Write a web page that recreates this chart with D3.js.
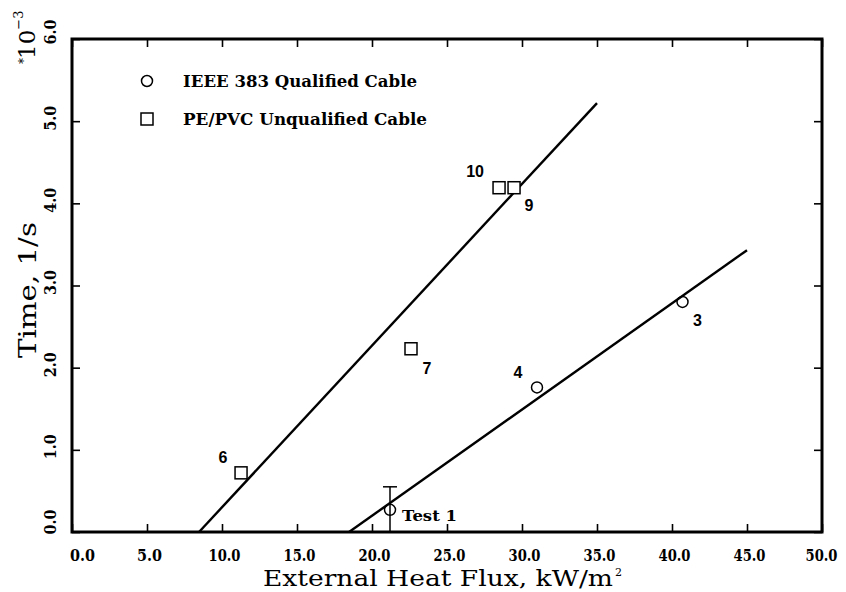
<!DOCTYPE html>
<html>
<head>
<meta charset="utf-8">
<script src="https://cdn.jsdelivr.net/npm/d3@7"></script>
<style>
  body { margin: 0; background: #fff; }
  svg { display: block; }
</style>
</head>
<body>
<svg id="chart" width="846" height="592"></svg>
<script>
// ---- data ----
const xTickValues = [0, 5, 10, 15, 20, 25, 30, 35, 40, 45, 50];
const yTickValues = [0, 1, 2, 3, 4, 5, 6];

// IEEE 383 qualified cable tests (heat flux kW/m², 1/time in 1e-3 1/s)
const qualifiedLabels = ["Test 1", "4", "3"];
const qualifiedFlux = [21.2, 31.0, 40.7];
const qualifiedTime = [0.27, 1.76, 2.80];

// PE/PVC unqualified cable tests
const unqualifiedLabels = ["6", "7", "10", "9"];
const unqualifiedFlux = [11.27, 22.6, 28.47, 29.47];
const unqualifiedTime = [0.72, 2.23, 4.19, 4.19];

// uncertainty bar on Test 1
const errorFlux = [21.2];
const errorLow = [0.0];
const errorHigh = [0.55];

// linear fits (end points)
const unqualifiedFitFlux = [8.47, 35.0];
const unqualifiedFitTime = [0.0, 5.22];
const qualifiedFitFlux = [18.47, 45.0];
const qualifiedFitTime = [0.0, 3.43];

const legendLabels = ["IEEE 383 Qualified Cable", "PE/PVC Unqualified Cable"];

// ---- layout ----
const svg = d3.select("#chart");
const plotLeft = 72, plotRight = 822, plotTop = 39, plotBottom = 532;
const x = d3.scaleLinear().domain([0, 50]).range([plotLeft, plotRight]);
const y = d3.scaleLinear().domain([0, 6]).range([plotBottom, plotTop]);

const typeFont = "'DejaVu Serif', 'Liberation Serif', serif";
const tickFont = "'DejaVu Serif', 'Liberation Serif', serif";
const numFont = "'Liberation Sans', Arial, sans-serif";

// ticks on all four sides, pointing inward
const tickLen = 8;
const fmt = d3.format(".1f");
const tickTextLength = s => s.length === 3 ? 25 : 32;
const xLabelShift = d => d === 0 ? 10 : (d === 50 ? -1 : 2);

const bottomAxis = d3.axisBottom(x).tickValues(xTickValues).tickSize(-tickLen).tickFormat(fmt);
const topAxis = d3.axisTop(x).tickValues(xTickValues).tickSize(-tickLen).tickFormat("");
const leftAxis = d3.axisLeft(y).tickValues(yTickValues).tickSize(-tickLen).tickFormat("");
const rightAxis = d3.axisRight(y).tickValues(yTickValues).tickSize(-tickLen).tickFormat("");

function styleAxis(g) {
  g.select(".domain").remove();
  g.selectAll(".tick line").attr("stroke", "#000").attr("stroke-width", 1.6);
}

const gb = svg.append("g").attr("transform", `translate(0,${plotBottom})`).call(bottomAxis).call(styleAxis);
gb.selectAll(".tick text")
  .attr("y", 0).attr("dy", 0)
  .attr("transform", d => `translate(${xLabelShift(d)},29)`)
  .attr("font-family", tickFont).attr("font-weight", "bold")
  .attr("font-size", 17).attr("fill", "#000")
  .attr("textLength", d => tickTextLength(fmt(d)))
  .attr("lengthAdjust", "spacingAndGlyphs");

svg.append("g").attr("transform", `translate(0,${plotTop})`).call(topAxis).call(styleAxis);
svg.append("g").attr("transform", `translate(${plotLeft},0)`).call(leftAxis).call(styleAxis);
svg.append("g").attr("transform", `translate(${plotRight},0)`).call(rightAxis).call(styleAxis);

// rotated y tick labels
svg.append("g").selectAll("text")
  .data(yTickValues)
  .join("text")
  .attr("transform", d => {
    let yy = y(d) - 3;
    if (d === 0) yy = y(d) - 10;
    if (d === 6) yy = y(d) - 7;
    return `translate(56,${yy}) rotate(-90)`;
  })
  .attr("text-anchor", "middle")
  .attr("font-family", tickFont).attr("font-weight", "bold")
  .attr("font-size", 17)
  .attr("textLength", d => tickTextLength(fmt(d)))
  .attr("lengthAdjust", "spacingAndGlyphs")
  .text(d => fmt(d));

// frame
svg.append("rect")
  .attr("x", plotLeft).attr("y", plotTop)
  .attr("width", plotRight - plotLeft).attr("height", plotBottom - plotTop)
  .attr("fill", "none").attr("stroke", "#000").attr("stroke-width", 3);

// fitted lines
const line = d3.line().x(d => x(d[0])).y(d => y(d[1]));
[[unqualifiedFitFlux, unqualifiedFitTime], [qualifiedFitFlux, qualifiedFitTime]].forEach(([fx, ft]) => {
  svg.append("path")
    .attr("d", line(d3.zip(fx, ft)))
    .attr("fill", "none").attr("stroke", "#000").attr("stroke-width", 2.4);
});

// error bar
errorFlux.forEach((f, i) => {
  svg.append("line")
    .attr("x1", x(f)).attr("x2", x(f))
    .attr("y1", y(errorLow[i])).attr("y2", y(errorHigh[i]))
    .attr("stroke", "#000").attr("stroke-width", 1.5);
  svg.append("line")
    .attr("x1", x(f) - 7).attr("x2", x(f) + 7)
    .attr("y1", y(errorHigh[i])).attr("y2", y(errorHigh[i]))
    .attr("stroke", "#000").attr("stroke-width", 1.5);
});

// markers
const qualified = d3.zip(qualifiedLabels, qualifiedFlux, qualifiedTime);
const unqualified = d3.zip(unqualifiedLabels, unqualifiedFlux, unqualifiedTime);

svg.append("g").selectAll("circle")
  .data(qualified).join("circle")
  .attr("cx", d => x(d[1])).attr("cy", d => y(d[2])).attr("r", 5.5)
  .attr("fill", "none").attr("stroke", "#000").attr("stroke-width", 1.5);

svg.append("g").selectAll("rect")
  .data(unqualified).join("rect")
  .attr("x", d => x(d[1]) - 6).attr("y", d => y(d[2]) - 6)
  .attr("width", 12).attr("height", 12)
  .attr("fill", "#fff").attr("stroke", "#000").attr("stroke-width", 1.5);

// point annotations, placed beside each marker
const labelPlacement = {
  "Test 1": [12, 6, "start"],
  "4": [-19, -15, "middle"],
  "3": [15, 18, "middle"],
  "6": [-18, -16, "middle"],
  "7": [16, 19, "middle"],
  "10": [-24, -16, "middle"],
  "9": [15, 18, "middle"]
};

const annotations = svg.append("g").selectAll("text")
  .data(qualified.concat(unqualified)).join("text")
  .attr("x", d => x(d[1]) + labelPlacement[d[0]][0])
  .attr("y", d => y(d[2]) + labelPlacement[d[0]][1])
  .attr("dy", "0.36em")
  .attr("text-anchor", d => labelPlacement[d[0]][2])
  .attr("font-family", d => d[0].startsWith("Test") ? typeFont : numFont)
  .attr("font-weight", "bold")
  .attr("font-size", d => d[0].startsWith("Test") ? 15 : 16)
  .text(d => d[0]);
annotations.filter(d => d[0].startsWith("Test"))
  .attr("textLength", 55).attr("lengthAdjust", "spacingAndGlyphs");

// legend
const legend = svg.append("g");
legend.append("circle").attr("cx", 147).attr("cy", 81).attr("r", 5.5)
  .attr("fill", "#fff").attr("stroke", "#000").attr("stroke-width", 1.5);
legend.append("rect").attr("x", 141).attr("y", 113).attr("width", 12).attr("height", 12)
  .attr("fill", "#fff").attr("stroke", "#000").attr("stroke-width", 1.5);
legend.selectAll("text").data(legendLabels).join("text")
  .attr("x", 183).attr("y", (d, i) => 81 + i * 38)
  .attr("dy", "0.36em")
  .attr("font-family", typeFont).attr("font-weight", "bold").attr("font-size", 16)
  .attr("textLength", (d, i) => i === 0 ? 234 : 244)
  .attr("lengthAdjust", "spacingAndGlyphs")
  .text(d => d);

// axis titles
const xTitle = svg.append("text")
  .attr("x", 263).attr("y", 586)
  .attr("font-family", typeFont).attr("font-size", 22);
xTitle.append("tspan")
  .attr("textLength", 350).attr("lengthAdjust", "spacingAndGlyphs")
  .text("External Heat Flux, kW/m");
xTitle.append("tspan").attr("font-size", 11).attr("dx", 2).attr("dy", -10).text("2");

svg.append("text")
  .attr("transform", "translate(36,290) rotate(-90)")
  .attr("text-anchor", "middle")
  .attr("font-family", typeFont).attr("font-size", 25)
  .attr("textLength", 136).attr("lengthAdjust", "spacingAndGlyphs")
  .text("Time, 1/s");

// scale factor for the y axis
const mult = svg.append("text")
  .attr("transform", "translate(35,64) rotate(-90)")
  .attr("font-family", typeFont);
mult.append("tspan").attr("font-size", 12).attr("dy", -7).text("*");
mult.append("tspan").attr("font-size", 23).attr("dy", 7).attr("dx", -1).text("10");
mult.append("tspan").attr("font-size", 13).attr("dy", -12).text("−3");
</script>
</body>
</html>
